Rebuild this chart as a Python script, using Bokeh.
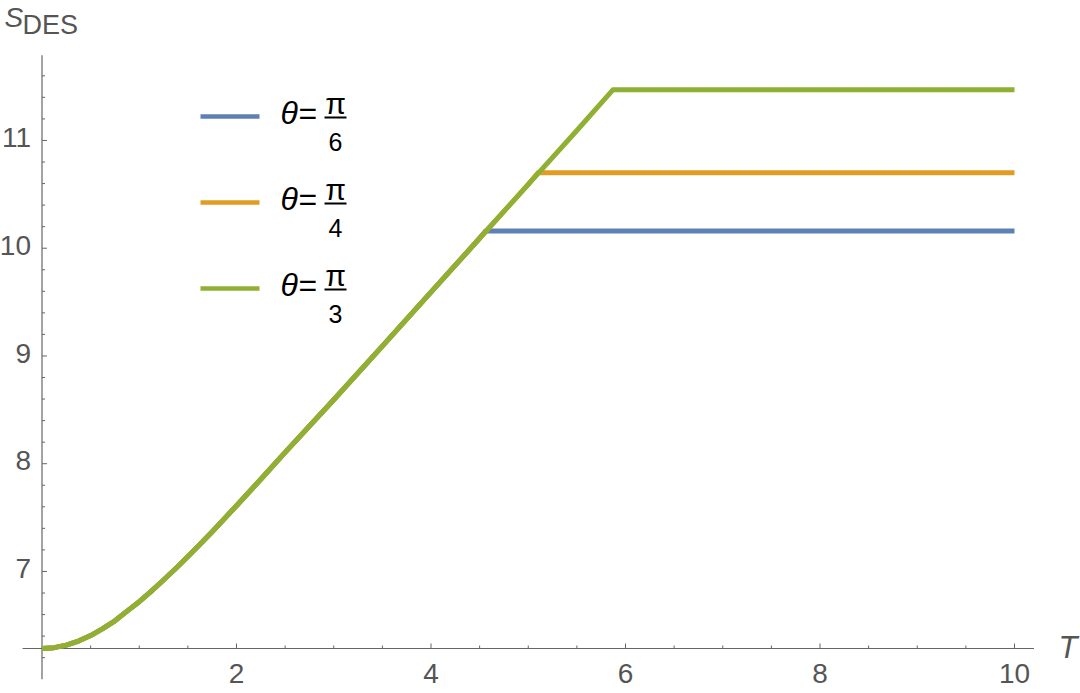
from bokeh.plotting import figure
from bokeh.models import Range1d
from bokeh.core.properties import value
from bokeh.embed import file_html
from bokeh.resources import INLINE

# ---------------- data ----------------
T_rise = [0.0, 0.125, 0.25, 0.375, 0.5, 0.625, 0.75, 0.875, 1.0, 1.125, 1.25, 1.375, 1.5,
          1.625, 1.75, 2.0, 2.25, 2.5, 3.0, 3.5, 4.0, 4.5, 5.0, 5.5]
S_rise = [6.285, 6.293, 6.316, 6.354, 6.405, 6.470, 6.542, 6.632, 6.719, 6.817, 6.921,
          7.028, 7.139, 7.252, 7.369, 7.610, 7.856, 8.105, 8.594, 9.091, 9.592, 10.092,
          10.592, 11.092]
theta_den = ["6", "4", "3"]          # theta = pi / den
T_sat = [4.56, 5.10, 5.87]           # where each curve saturates
S_sat = [10.16, 10.70, 11.47]        # plateau values
T_end = 10.0
colors = ["#5E81B5", "#E19C24", "#8FB032"]

x_major = [2, 4, 6, 8, 10]
x_minor = [0.5, 1, 1.5, 2.5, 3, 3.5, 4.5, 5, 5.5, 6.5, 7, 7.5, 8.5, 9, 9.5]
y_major = [7, 8, 9, 10, 11]
y_minor = [6.2, 6.4, 6.6, 6.8, 7.2, 7.4, 7.6, 7.8, 8.2, 8.4, 8.6, 8.8, 9.2, 9.4, 9.6, 9.8,
           10.2, 10.4, 10.6, 10.8, 11.2, 11.4, 11.6]
x_axis_span = [-0.2, 10.2]
y_axis_span = [6.0, 11.79]
x_origin, y_origin = 0.0, 6.285

# ---------------- layout (picture pixels -> data) ----------------
W, H = 1080, 693
SX, SY = 97.25, 107.75          # px per unit
PX0, PY0 = 41.5, 648.0          # picture pixel of (x_origin, y_origin)
MID = 0.35                      # baseline sits this many em below a "middle" anchor


def X(px):
    return x_origin + (px - PX0) / SX


def Y(py):
    return y_origin + (PY0 - py) / SY


def YB(py_baseline, fs):
    """data y of a middle anchor whose text baseline lands at picture row py_baseline"""
    return Y(py_baseline - MID * fs)


p = figure(width=W, height=H, output_backend="svg", toolbar_location=None,
           x_axis_type=None, y_axis_type=None,
           x_range=Range1d(X(0), X(W)), y_range=Range1d(Y(H), Y(0)),
           min_border=0, outline_line_color=None)
p.grid.visible = False

AX = "#666666"
LAB = "#555555"
FONT = value("Liberation Sans")

# axes lines
p.segment(x0=[x_axis_span[0]], y0=[y_origin], x1=[x_axis_span[1]], y1=[y_origin],
          line_color=AX, line_width=1.2)
p.segment(x0=[x_origin], y0=[y_axis_span[0]], x1=[x_origin], y1=[y_axis_span[1]],
          line_color=AX, line_width=1.2)

# ticks
p.segment(x0=x_major, y0=[y_origin] * len(x_major), x1=x_major,
          y1=[y_origin + 5 / SY] * len(x_major), line_color=AX, line_width=1)
p.segment(x0=x_minor, y0=[y_origin] * len(x_minor), x1=x_minor,
          y1=[y_origin + 3 / SY] * len(x_minor), line_color=AX, line_width=1)
p.segment(x0=[x_origin] * len(y_major), y0=y_major, x1=[x_origin + 5 / SX] * len(y_major),
          y1=y_major, line_color=AX, line_width=1)
p.segment(x0=[x_origin] * len(y_minor), y0=y_minor, x1=[x_origin + 3 / SX] * len(y_minor),
          y1=y_minor, line_color=AX, line_width=1)

TFS = 28
# tick labels
p.text(x=x_major, y=[YB(683, TFS)] * len(x_major), text=[str(v) for v in x_major],
       text_align="center", text_baseline="middle", text_font=FONT,
       text_font_size=f"{TFS}px", text_color=LAB)
p.text(x=[x_origin - 11 / SX] * len(y_major),
       y=[v - (7 - MID * TFS) / SY for v in y_major],
       text=[str(v) for v in y_major], text_align="right", text_baseline="middle",
       text_font=FONT, text_font_size=f"{TFS}px", text_color=LAB)

# axis labels
p.text(x=[X(1058)], y=[YB(658, 31)], text=["T"], text_align="left", text_baseline="middle",
       text_font=FONT, text_font_size="31px", text_font_style="italic", text_color=LAB)
p.text(x=[X(4)], y=[YB(27, 28)], text=["S"], text_align="left", text_baseline="middle",
       text_font=FONT, text_font_size="28px", text_font_style="italic", text_color=LAB)
p.text(x=[X(22)], y=[YB(34, 27)], text=["DES"], text_align="left", text_baseline="middle",
       text_font=FONT, text_font_size="27px", text_color=LAB)

# curves
for ts, ss, c in zip(T_sat, S_sat, colors):
    xs = [t for t in T_rise if t < ts] + [ts, T_end]
    ys = [s for t, s in zip(T_rise, S_rise) if t < ts] + [ss, ss]
    p.line(xs, ys, line_color=c, line_width=5, line_join="round")

# legend
leg_y = [116, 202, 288]
for yy, den, c in zip(leg_y, theta_den, colors):
    p.segment(x0=[X(200)], y0=[Y(yy)], x1=[X(259)], y1=[Y(yy)], line_color=c, line_width=4.5)
    p.text(x=[X(280)], y=[YB(yy + 8, 32)], text=["θ"], text_align="left",
           text_baseline="middle", text_font=FONT, text_font_size="32px",
           text_font_style="italic", text_color="black")
    p.text(x=[X(298)], y=[YB(yy + 8, 32)], text=["="], text_align="left",
           text_baseline="middle", text_font=FONT, text_font_size="32px",
           text_color="black")
    p.text(x=[X(335)], y=[YB(yy - 3, 30)], text=["π"], text_align="center",
           text_baseline="middle", text_font=FONT, text_font_size="30px",
           text_color="black")
    p.segment(x0=[X(324)], y0=[Y(yy + 1)], x1=[X(346)], y1=[Y(yy + 1)],
              line_color="black", line_width=2)
    p.text(x=[X(335)], y=[YB(yy + 34, 25)], text=[den], text_align="center",
           text_baseline="middle", text_font=FONT, text_font_size="25px",
           text_color="black")

open("out.html", "w").write(file_html(p, INLINE))
